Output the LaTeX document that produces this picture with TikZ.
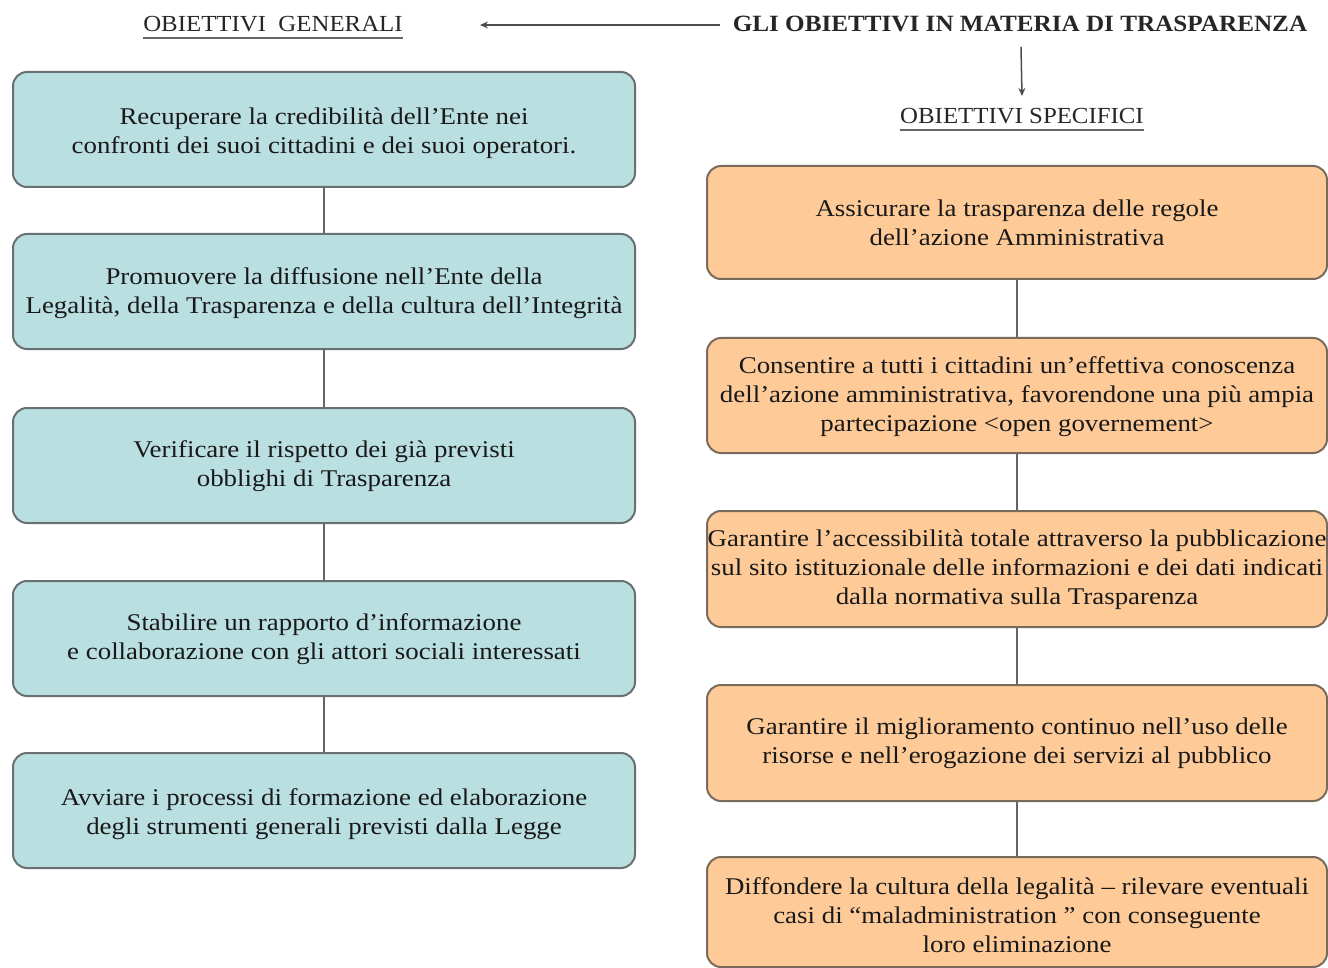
\documentclass[tikz,border=0pt]{standalone}
\usepackage{fontspec}
\setmainfont{Liberation Serif}[FakeStretch=1.08]
\newfontfamily\bodyfont{Liberation Serif}[FakeStretch=1.12]
\usetikzlibrary{arrows.meta}
\definecolor{bluefill}{RGB}{186,223,225}
\definecolor{orangefill}{RGB}{254,203,152}
\definecolor{blueedge}{RGB}{105,112,114}
\definecolor{orangeedge}{RGB}{122,106,92}
\definecolor{linkgray}{RGB}{100,100,100}
\newcommand\upad[1]{\rule{0pt}{#1pt}}
\begin{document}
\begin{tikzpicture}[x=1pt,y=-1pt,
  boxbase/.style={line width=2pt, rounded corners=14pt, align=center, inner sep=0pt,
    font=\bodyfont\fontsize{24}{29}\selectfont, text=black!90},
  genbox/.style={boxbase, draw=blueedge, fill=bluefill, minimum width=622pt, minimum height=115pt},
  specbox/.style={boxbase, draw=orangeedge, fill=orangefill, minimum width=620pt, minimum height=113pt},
  head/.style={inner sep=0pt, font=\fontsize{23}{29}\selectfont, text=black!85},
  link/.style={draw=linkgray, line width=2pt},
  arrowline/.style={draw=black!70, line width=1.5pt, -{Stealth[length=8pt,width=7pt]}}
]
\useasboundingbox (0,0) rectangle (1328,968);

% headers
\node[head] (gen) at (273,24) {OBIETTIVI\ \ GENERALI};
\draw[draw=black!60, line width=1.5pt] ([yshift=-6pt]gen.south west) -- ([yshift=-6pt]gen.south east);
\node[head, font=\bfseries\fontsize{23.3}{29}\selectfont] (title) at (1020,24) {GLI OBIETTIVI IN MATERIA DI TRASPARENZA};
\node[head] (spec) at (1022,116) {OBIETTIVI SPECIFICI};
\draw[draw=black!60, line width=1.5pt] ([yshift=-6pt]spec.south west) -- ([yshift=-6pt]spec.south east);

\coordinate (arrR) at (720,25);
\coordinate (arrL) at (480,25);
\draw[arrowline] (arrR) -- (arrL);
\coordinate (dTop) at (1021,47);
\coordinate (dBot) at (1022,96);
\draw[arrowline] (dTop) -- (dBot);

% left column
\node[genbox] (g1) at (324,129.5) {\upad{24}Recuperare la credibilità dell’Ente nei\\confronti dei suoi cittadini e dei suoi operatori.};
\node[genbox] (g2) at (324,291.5) {\upad{21}Promuovere la diffusione nell’Ente della\\Legalità, della Trasparenza e della cultura dell’Integrità};
\node[genbox] (g3) at (324,465.5) {\upad{19}Verificare il rispetto dei già previsti\\obblighi di Trasparenza};
\node[genbox] (g4) at (324,638.5) {\upad{18}Stabilire un rapporto d’informazione\\e collaborazione con gli attori sociali interessati};
\node[genbox] (g5) at (324,810.5) {\upad{24}Avviare i processi di formazione ed elaborazione\\degli strumenti generali previsti dalla Legge};

\draw[link] (g1.south) -- (g2.north);
\draw[link] (g2.south) -- (g3.north);
\draw[link] (g3.south) -- (g4.north);
\draw[link] (g4.south) -- (g5.north);

% right column
\node[specbox] (s1) at (1017,222.5) {Assicurare la trasparenza delle regole\\dell’azione Amministrativa};
\node[specbox, minimum height=115pt] (s2) at (1017,395.5) {\upad{19}Consentire a tutti i cittadini un’effettiva conoscenza\\dell’azione amministrativa, favorendone una più ampia\\partecipazione <open governement>};
\node[specbox, minimum height=116pt] (s3) at (1017,569) {\upad{18}Garantire l’accessibilità totale attraverso la pubblicazione\\sul sito istituzionale delle informazioni e dei dati indicati\\dalla normativa sulla Trasparenza};
\node[specbox, minimum height=116pt] (s4) at (1017,743) {Garantire il miglioramento continuo nell’uso delle\\risorse e nell’erogazione dei servizi al pubblico};
\node[specbox, minimum height=110pt] (s5) at (1017,912) {\upad{23}Diffondere la cultura della legalità – rilevare eventuali\\casi di “maladministration ” con conseguente\\loro eliminazione};

\draw[link] (s1.south) -- (s2.north);
\draw[link] (s2.south) -- (s3.north);
\draw[link] (s3.south) -- (s4.north);
\draw[link] (s4.south) -- (s5.north);
\end{tikzpicture}
\end{document}
